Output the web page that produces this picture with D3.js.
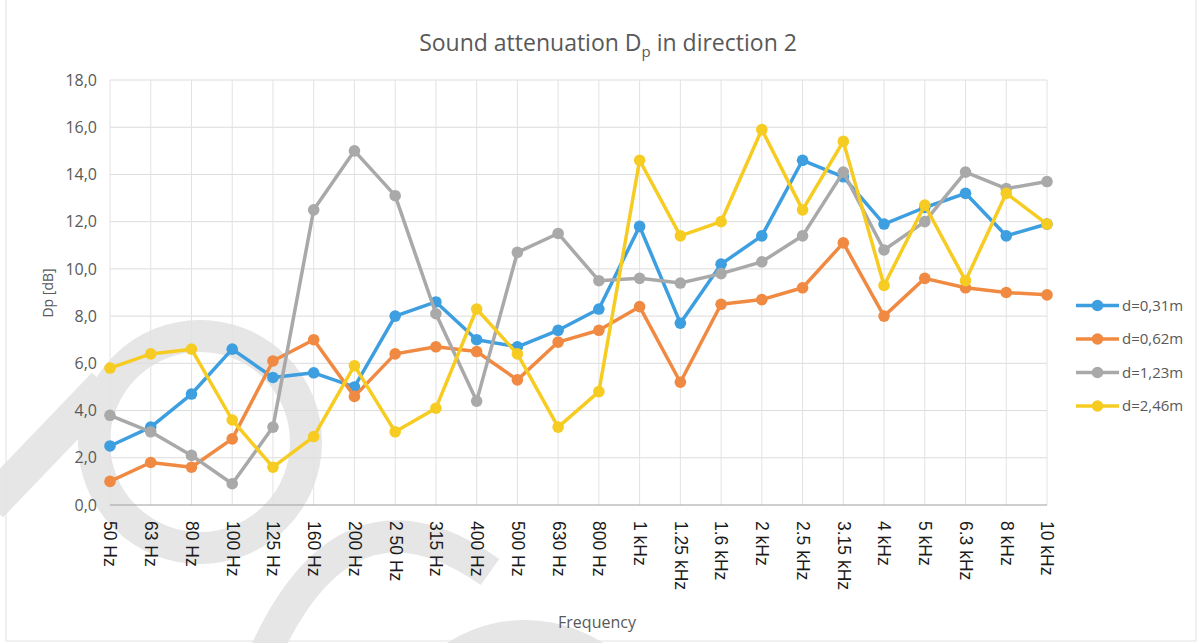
<!DOCTYPE html>
<html><head><meta charset="utf-8">
<script src="https://cdn.jsdelivr.net/npm/d3@7/dist/d3.min.js"></script>
<style>
html,body{margin:0;padding:0;background:#fff;}
svg{display:block;font-family:"Open Sans","Noto Sans",sans-serif;}
</style></head>
<body><svg id="c" width="1200" height="643"></svg>
<script>
const categories = ["50 Hz","63 Hz","80 Hz","100 Hz","125 Hz","160 Hz","200 Hz","2 50 Hz","315 Hz","400 Hz","500 Hz","630 Hz","800 Hz","1 kHz","1.25 kHz","1.6 kHz","2 kHz","2.5 kHz","3.15 kHz","4 kHz","5 kHz","6.3 kHz","8 kHz","10 kHz"];
const seriesNames = ["d=0,31m","d=0,62m","d=1,23m","d=2,46m"];
const seriesColors = ["#3d9ee0","#f08a42","#a9a9a9","#f7cc22"];
const d031 = [2.5,3.3,4.7,6.6,5.4,5.6,5.0,8.0,8.6,7.0,6.7,7.4,8.3,11.8,7.7,10.2,11.4,14.6,13.9,11.9,12.6,13.2,11.4,11.9];
const d062 = [1.0,1.8,1.6,2.8,6.1,7.0,4.6,6.4,6.7,6.5,5.3,6.9,7.4,8.4,5.2,8.5,8.7,9.2,11.1,8.0,9.6,9.2,9.0,8.9];
const d123 = [3.8,3.1,2.1,0.9,3.3,12.5,15.0,13.1,8.1,4.4,10.7,11.5,9.5,9.6,9.4,9.8,10.3,11.4,14.1,10.8,12.0,14.1,13.4,13.7];
const d246 = [5.8,6.4,6.6,3.6,1.6,2.9,5.9,3.1,4.1,8.3,6.4,3.3,4.8,14.6,11.4,12.0,15.9,12.5,15.4,9.3,12.7,9.5,13.2,11.9];
const yTicks = [0,2,4,6,8,10,12,14,16,18];
const allSeries = [d031,d062,d123,d246];

const svg = d3.select("#c");
const x = d3.scalePoint().domain(categories).range([110,1047]);
const y = d3.scaleLinear().domain([0,18]).range([505,80]);
const fmt = v => d3.format(".1f")(v).replace(".", ",");

// background watermark (scan artefacts)
const wm = svg.append("g").attr("fill","none").attr("stroke","#e6e6e6");
wm.append("path").attr("d","M -10 505 L 105 385").attr("stroke-width",36);
wm.append("circle").attr("cx",200).attr("cy",442).attr("r",106).attr("stroke-width",32);
wm.append("path").attr("d","M 262 660 Q 345 470 490 572").attr("stroke-width",32);
wm.append("circle").attr("cx",525).attr("cy",765).attr("r",130).attr("stroke-width",30);

// chart border
svg.append("rect").attr("x",6).attr("y",-5).attr("width",1190).attr("height",646)
  .attr("fill","none").attr("stroke","#e2e2e2");

// gridlines
const grid = svg.append("g");
grid.selectAll("line.h").data(yTicks.filter(d=>d>0)).join("line")
  .attr("x1",x.range()[0]).attr("x2",x.range()[1])
  .attr("y1",d=>y(d)).attr("y2",d=>y(d))
  .attr("stroke","#dcdcdc").attr("stroke-width",1);
grid.selectAll("line.v").data(categories).join("line")
  .attr("x1",d=>x(d)).attr("x2",d=>x(d))
  .attr("y1",y(18)).attr("y2",y(0))
  .attr("stroke","#e2e2e2").attr("stroke-width",1);

// y axis
const ya = svg.append("g").attr("transform",`translate(${x.range()[0]},0)`)
  .call(d3.axisLeft(y).tickValues(yTicks).tickFormat(fmt).tickSize(0).tickPadding(13));
ya.select(".domain").remove();
ya.selectAll("text").attr("font-size",16).attr("fill","#595959").attr("font-family","'Open Sans',sans-serif");

// x axis
const xa = svg.append("g").attr("transform",`translate(0,${y(0)})`)
  .call(d3.axisBottom(x).tickSize(0).tickPadding(0));
xa.select(".domain").attr("stroke","#a0a0a0").attr("stroke-width",1.2)
  .attr("d",`M${x.range()[0]},0H${x.range()[1]}`);
xa.selectAll("text")
  .attr("font-size",17.5).attr("fill","#1a1a1a")
  .attr("text-anchor","start")
  .attr("transform","rotate(90)")
  .attr("x",16).attr("y",0).attr("dy","0.35em");

// lines and markers
const line = d3.line().x((d,i)=>x(categories[i])).y(d=>y(d));
allSeries.forEach((s,k)=>{
  const g = svg.append("g");
  g.append("path").datum(s).attr("d",line).attr("fill","none")
    .attr("stroke",seriesColors[k]).attr("stroke-width",3.5).attr("stroke-linejoin","round");
  g.selectAll("circle").data(s).join("circle")
    .attr("cx",(d,i)=>x(categories[i])).attr("cy",d=>y(d)).attr("r",5.8)
    .attr("fill",seriesColors[k]);
});

// title
const t = svg.append("text").attr("x",608).attr("y",51).attr("text-anchor","middle")
  .attr("font-size",23).attr("fill","#595959");
t.append("tspan").text("Sound attenuation D");
t.append("tspan").text("p").attr("font-size",15).attr("dy",6);
t.append("tspan").text(" in direction 2").attr("dy",-6);

// axis titles
svg.append("text").attr("x",597).attr("y",628).attr("text-anchor","middle")
  .attr("font-size",16).attr("fill","#595959").text("Frequency");
svg.append("text").attr("transform","translate(53,293) rotate(-90)").attr("text-anchor","middle")
  .attr("font-size",14).attr("fill","#595959").text("Dp [dB]");

// legend
const leg = svg.append("g");
const legY = [305.5,339,372.5,406];
seriesNames.forEach((n,k)=>{
  const g = leg.append("g").attr("transform",`translate(0,${legY[k]})`);
  g.append("line").attr("x1",1076).attr("x2",1119).attr("y1",0).attr("y2",0)
    .attr("stroke",seriesColors[k]).attr("stroke-width",3.5);
  g.append("circle").attr("cx",1097.5).attr("cy",0).attr("r",5.8).attr("fill",seriesColors[k]);
  g.append("text").attr("x",1122).attr("y",0).attr("dy","0.35em")
    .attr("font-size",15).attr("fill","#595959").text(n);
});
</script></body></html>
